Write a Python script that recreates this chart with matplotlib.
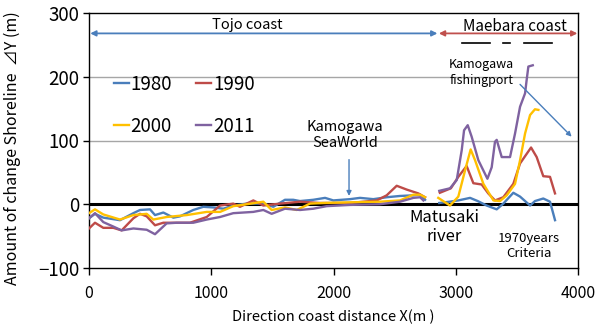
import numpy as np
import matplotlib
matplotlib.use("Agg")
import matplotlib.pyplot as plt

plt.rcParams['font.family'] = ['Noto Sans CJK JP', 'DejaVu Sans']

nan = np.nan
years = ["1980", "1990", "2000", "2011"]

x1980 = [0, 49, 117, 254, 363, 417, 499, 540, 608, 690, 744, 853, 935, 1017, 1099, 1180, 1290, 1426, 1508,
         1603, 1671, 1726, 1835, 1931, 1999, 2135, 2217, 2326, 2435, 2544, 2653, 2708, 2749, nan,
         2865, 2950, 3021, 3117, 3180, 3253, 3335, 3389, 3471, 3526, 3608, 3648, 3716, 3771, 3798, 3812]
y1980 = [-22, -15, -21, -25, -14, -9, -8, -17, -13, -21, -19, -9, -4, -5, -7, -2, 1, 1, -4,
         7, 7, 5, 7, 10, 6, 8, 10, 8, 11, 13, 14, 15, 7, nan,
         2, 4, 6, 10, 5, -2, -8, 1, 18, 12, -2, 5, 9, 4, -15, -25]

x1990 = [0, 49, 117, 199, 267, 363, 417, 472, 540, 608, 690, 826, 963, 1072, 1180, 1235, 1344, 1426, 1562,
         1726, 1890, 2135, 2354, 2435, 2517, 2599, 2694, 2749, nan,
         2870, 2960, 3021, 3089, 3144, 3212, 3266, 3321, 3389, 3471, 3526, 3616, 3662, 3716, 3771, 3812]
y1990 = [-38, -29, -37, -37, -41, -22, -15, -19, -33, -29, -29, -29, -20, -2, 1, -4, 6, -2, 1,
         4, 2, 2, 6, 14, 29, 23, 17, 11, nan,
         18, 25, 43, 60, 33, 31, 17, 6, 11, 32, 64, 89, 74, 44, 43, 17]

x2000 = [0, 49, 117, 254, 363, 472, 526, 635, 799, 963, 1072, 1180, 1290, 1426, 1494, 1603, 1699,
         1808, 1917, 2135, 2380, 2544, 2653, 2708, 2749, nan,
         2857, 2953, 3021, 3076, 3122, 3158, 3226, 3308, 3362, 3417, 3485, 3526, 3567, 3608, 3648, 3676]
y2000 = [-14, -8, -16, -24, -17, -15, -24, -20, -17, -12, -12, -3, 0, 4, -9, -5, -9,
         1, 2, 3, 4, 6, 15, 15, 11, nan,
         10, -2, 12, 53, 86, 69, 32, 6, 5, 14, 32, 69, 111, 140, 149, 148]

x2011 = [0, 49, 117, 199, 267, 363, 472, 540, 635, 717, 853, 963, 1072, 1180, 1344, 1426, 1494, 1603,
         1726, 1835, 1944, 2135, 2380, 2544, 2653, 2708, 2735, nan,
         2865, 2953, 3008, 3049, 3068, 3098, 3130, 3185, 3259, 3294, 3321, 3335, 3376, 3444, 3485,
         3526, 3567, 3580, 3594, 3630]
y2011 = [-22, -14, -28, -35, -41, -38, -40, -47, -30, -29, -29, -24, -20, -14, -12, -9, -15, -7,
         -9, -7, -3, -1, 0, 4, 10, 11, 6, nan,
         21, 25, 38, 85, 116, 124, 106, 69, 40, 58, 98, 101, 74, 74, 111,
         153, 174, 195, 216, 218]

xticks = [0, 1000, 2000, 3000, 4000]
yticks = [-100, 0, 100, 200, 300]

colors = ["#4A7EBB", "#BE4B48", "#FFC000", "#7F62A0"]
blue_arrow = "#4A7EBB"
red_arrow = "#C0504D"

fig = plt.figure(figsize=(6.07, 3.24), dpi=100)
ax = fig.add_axes([89 / 607, 1 - 268 / 324, 489 / 607, 255 / 324])

ax.set_xlim(0, 4000)
ax.set_ylim(-100, 300)

for yv in [100, 200]:
    ax.axhline(yv, color="#A6A6A6", lw=1.0, zorder=1)
ax.axhline(0, color="black", lw=2.2, zorder=2)

series = [(x1980, y1980), (x1990, y1990), (x2000, y2000), (x2011, y2011)]
handles = []
for (xs, ys), c, lab in zip(series, colors, years):
    h, = ax.plot(xs, ys, color=c, lw=1.7, label=lab, zorder=3)
    handles.append(h)

ax.set_xticks(xticks)
ax.set_yticks(yticks)
ax.tick_params(axis="x", labelsize=11.5, direction="out", length=5, width=1, pad=7)
ax.tick_params(axis="y", labelsize=13.5, direction="out", length=4, width=1, pad=3)
for sp in ax.spines.values():
    sp.set_color("black")
    sp.set_linewidth(1.0)

ax.set_xlabel("Direction coast distance X(m )", fontsize=10.5)
ax.xaxis.set_label_coords(0.5, -0.162)
ax.set_ylabel("Amount of change Shoreline  ⊿Y (m)", fontsize=11.5)
ax.yaxis.set_label_coords(-0.14, 0.47)

order = [0, 2, 1, 3]
leg = ax.legend([handles[i] for i in order], [years[i] for i in order],
                ncol=2, loc="upper left", bbox_to_anchor=(0.035, 0.79), frameon=False,
                fontsize=13.5, handlelength=0.8, handletextpad=0.1, columnspacing=1.3,
                labelspacing=1.1, borderaxespad=0)

# coast ranges
ax.annotate("", xy=(10, 268), xytext=(2850, 268),
            arrowprops=dict(arrowstyle="<|-|>", color=blue_arrow, lw=1.3, mutation_scale=8,
                            shrinkA=0, shrinkB=0))
ax.annotate("", xy=(2862, 268), xytext=(3995, 268),
            arrowprops=dict(arrowstyle="<|-|>", color=red_arrow, lw=1.3, mutation_scale=8,
                            shrinkA=0, shrinkB=0))
ax.text(1292, 281, "Tojo coast", fontsize=10.5, ha="center", va="center")
ax.text(3485, 279, "Maebara coast", fontsize=11, ha="center", va="center")
for x0, x1 in [(3051, 3280), (3386, 3443), (3557, 3787)]:
    ax.plot([x0, x1], [253, 253], color="black", lw=1.2)

# fishing port
ax.text(3207, 207, "Kamogawa\nfishingport", fontsize=9, ha="center", va="center", linespacing=1.25)
ax.annotate("", xy=(3948, 106), xytext=(3526, 188),
            arrowprops=dict(arrowstyle="-|>", color=blue_arrow, lw=1.0, mutation_scale=7,
                            shrinkA=0, shrinkB=0))

# sea world
ax.text(2095, 108, "Kamogawa\nSeaWorld", fontsize=10.5, ha="center", va="center", linespacing=1.2)
ax.annotate("", xy=(2127, 13), xytext=(2127, 70),
            arrowprops=dict(arrowstyle="-|>", color=blue_arrow, lw=1.0, mutation_scale=7,
                            shrinkA=0, shrinkB=0))

ax.text(2904, -36, "Matusaki\nriver", fontsize=12, ha="center", va="center", linespacing=1.15)
ax.text(3600, -65, "1970years\nCriteria", fontsize=9.5, ha="center", va="center", linespacing=1.2)

fig.savefig("out.png", dpi=100)
